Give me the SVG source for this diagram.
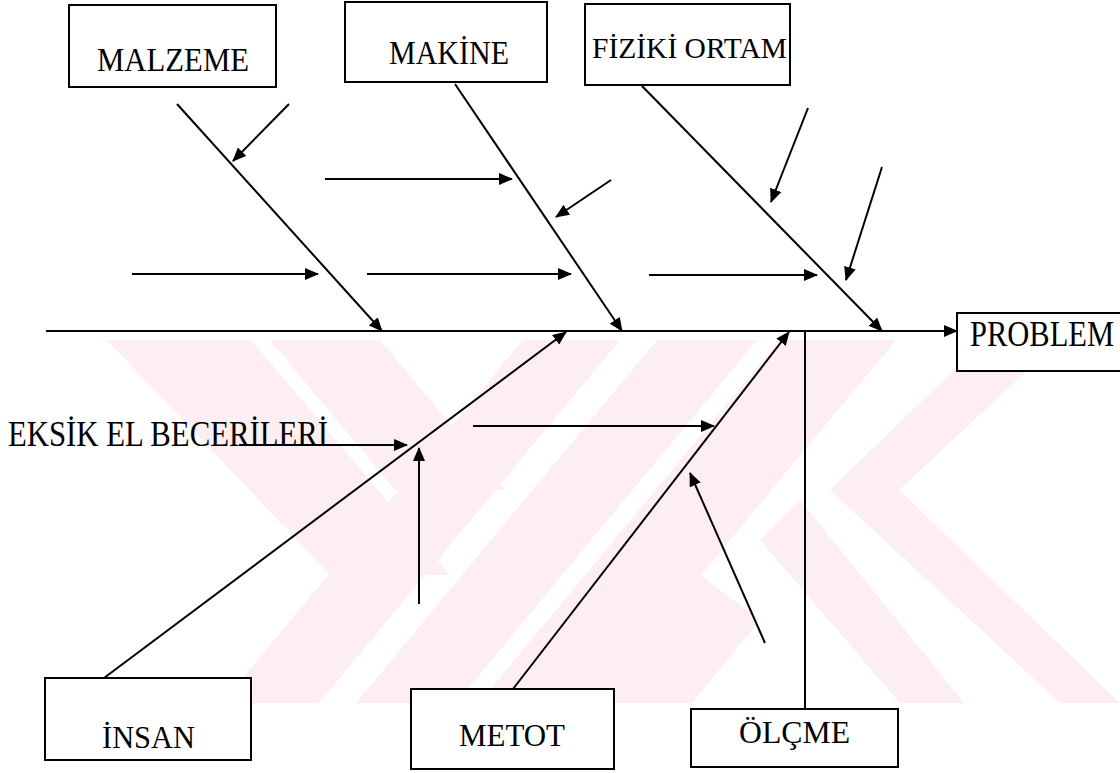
<svg xmlns="http://www.w3.org/2000/svg" width="1120" height="773" viewBox="0 0 1120 773">
  <defs>
    <marker id="head" markerUnits="userSpaceOnUse" markerWidth="14" markerHeight="12" refX="13" refY="6" orient="auto">
      <path d="M0,0 L14,6 L0,12 z" fill="#000"/>
    </marker>
    <clipPath id="wm-clip">
      <rect x="0" y="340" width="1120" height="363"/>
    </clipPath>
  </defs>
  <style>
    .box { fill: #fff; stroke: #000; stroke-width: 2; }
    .lbl { font-family: "Liberation Serif", "Times New Roman", serif; fill: #000; }
    .ln { stroke: #000; stroke-width: 2; fill: none; }
    .arr { stroke: #000; stroke-width: 2; fill: none; marker-end: url(#head); }
    .wm { fill: #fdeef1; }
  </style>

  <rect width="1120" height="773" fill="#fff"/>

  <!-- faint background emblem made of diagonal bands -->
  <g id="emblem" clip-path="url(#wm-clip)">
    <polygon class="wm" points="107,340 251,340 450,575 330,575"/>
    <polygon class="wm" points="270,340 380,340 505,490 395,490"/>
    <polygon class="wm" points="523,340 620,340 319,703 222,703"/>
    <polygon class="wm" points="657,340 757,340 456,703 356,703"/>
    <polygon class="wm" points="780,340 896,340 595,703 479,703"/>
    <polygon class="wm" points="595,703 692,703 760,620 700,575"/>
    <polygon class="wm" points="985,340 1060,340 899,490 830,490"/>
    <polygon class="wm" points="830,490 899,490 1120,703 1060,703"/>
    <polygon class="wm" points="760,540 800,500 964,703 900,703"/>
  </g>

  <!-- connectors -->
  <g id="connectors">
    <!-- spine -->
    <line class="arr" x1="46" y1="331" x2="957" y2="331"/>
    <!-- upper bones -->
    <line class="arr" x1="177" y1="104" x2="382" y2="331"/>
    <line class="arr" x1="455" y1="84" x2="622" y2="331"/>
    <line class="arr" x1="642" y1="86" x2="882" y2="331"/>
    <!-- upper causes -->
    <line class="arr" x1="289" y1="104" x2="233" y2="161"/>
    <line class="arr" x1="132" y1="274" x2="318" y2="274"/>
    <line class="arr" x1="367" y1="274" x2="571" y2="274"/>
    <line class="arr" x1="325" y1="179" x2="512" y2="179"/>
    <line class="arr" x1="611" y1="180" x2="556" y2="217"/>
    <line class="arr" x1="808" y1="108" x2="771" y2="202"/>
    <line class="arr" x1="882" y1="167" x2="846" y2="280"/>
    <line class="arr" x1="649" y1="275" x2="817" y2="275"/>
    <!-- lower bones -->
    <line class="arr" x1="104" y1="678" x2="566" y2="332"/>
    <line class="arr" x1="513" y1="689" x2="789" y2="332"/>
    <line class="ln" x1="805" y1="330" x2="805" y2="709"/>
    <!-- lower causes -->
    <line class="arr" x1="239" y1="445" x2="407" y2="445"/>
    <line class="arr" x1="419" y1="604" x2="419" y2="448"/>
    <line class="arr" x1="473" y1="426" x2="714" y2="426"/>
    <line class="arr" x1="765" y1="643" x2="690" y2="473"/>
  </g>

  <g id="malzeme">
    <rect class="box" x="69" y="5" width="207" height="82"/>
    <text class="lbl" x="97" y="71" font-size="33" textLength="152" lengthAdjust="spacingAndGlyphs">MALZEME</text>
  </g>
  <g id="makine">
    <rect class="box" x="345" y="2" width="202" height="80"/>
    <text class="lbl" x="389" y="64" font-size="33" textLength="120" lengthAdjust="spacingAndGlyphs">MAKİNE</text>
  </g>
  <g id="fiziki-ortam">
    <rect class="box" x="585" y="4" width="205" height="81"/>
    <text class="lbl" x="592" y="58" font-size="29" textLength="195" lengthAdjust="spacingAndGlyphs">FİZİKİ ORTAM</text>
  </g>
  <g id="problem">
    <rect class="box" x="957" y="313" width="170" height="58"/>
    <text class="lbl" x="970" y="346" font-size="35" textLength="144" lengthAdjust="spacingAndGlyphs">PROBLEM</text>
  </g>
  <g id="eksik">
    <text class="lbl" x="8" y="446" font-size="35" textLength="320" lengthAdjust="spacingAndGlyphs">EKSİK EL BECERİLERİ</text>
  </g>
  <g id="insan">
    <rect class="box" x="45" y="678" width="206" height="82"/>
    <text class="lbl" x="102" y="748" font-size="31" textLength="93" lengthAdjust="spacingAndGlyphs">İNSAN</text>
  </g>
  <g id="metot">
    <rect class="box" x="411" y="689" width="203" height="80"/>
    <text class="lbl" x="459" y="746" font-size="31" textLength="106" lengthAdjust="spacingAndGlyphs">METOT</text>
  </g>
  <g id="olcme">
    <rect class="box" x="691" y="709" width="207" height="58"/>
    <text class="lbl" x="739" y="743" font-size="32" textLength="111" lengthAdjust="spacingAndGlyphs">ÖLÇME</text>
  </g>
</svg>
